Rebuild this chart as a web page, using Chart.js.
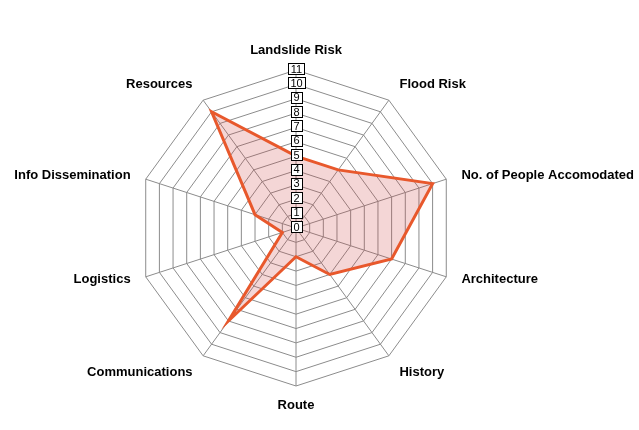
<!DOCTYPE html>
<html>
<head>
<meta charset="utf-8">
<script src="https://cdn.jsdelivr.net/npm/chart.js@4/dist/chart.umd.min.js"></script>
<style>
  html, body { margin: 0; padding: 0; background: #ffffff; }
  #wrap { width: 639px; height: 430px; position: relative; }
</style>
</head>
<body>
<div id="wrap"><canvas id="c" width="639" height="430"></canvas></div>
<script>
const categories = [
  "Landslide Risk", "Flood Risk", "No. of People Accomodated", "Architecture",
  "History", "Route", "Communications", "Logistics", "Info Dissemination", "Resources"
];
const seriesValues = [5, 5, 10, 7, 4, 2, 8, 1, 3, 10];
const tickLabels = ["0", "1", "2", "3", "4", "5", "6", "7", "8", "9", "10", "11"];

const labelFont = 'bold 13px "Liberation Sans", Arial, sans-serif';
const tickFont = '11px "Liberation Sans", Arial, sans-serif';

const overlay = {
  id: 'overlay',
  afterDatasetsDraw(chart) {
    const s = chart.scales.r;
    const ctx = chart.ctx;
    ctx.save();
    // tick label boxes
    ctx.font = tickFont;
    ctx.textAlign = 'center';
    ctx.textBaseline = 'middle';
    tickLabels.forEach((t) => {
      const v = Number(t);
      const d = s.getDistanceFromCenterForValue(v);
      const x = s.xCenter;
      const y = s.yCenter - d - 1.5;
      const w = Math.round(ctx.measureText(t).width) + 5;
      const h = 11;
      const bx = Math.round(x - w / 2) + 0.5;
      const by = Math.round(y - h / 2) + 0.5;
      ctx.fillStyle = '#ffffff';
      ctx.fillRect(bx, by, w, h);
      ctx.strokeStyle = '#000000';
      ctx.lineWidth = 1;
      ctx.strokeRect(bx, by, w, h);
      ctx.fillStyle = '#000000';
      ctx.fillText(t, x + 0.5, y + 1);
    });
    // point labels
    ctx.font = labelFont;
    ctx.fillStyle = '#000000';
    ctx.textBaseline = 'middle';
    const n = categories.length;
    const dyByAngle = {0: -1.5, 36: -1, 72: 2, 108: -3, 144: 2.5, 180: 1.5, 216: 2.5, 252: -3, 288: 2, 324: -1};
    categories.forEach((lab, i) => {
      const p = s.getPointPosition(i, s.drawingArea + 18);
      const ang = Math.round(360 * i / n);
      let align = 'center';
      if (ang > 0 && ang < 180) align = 'left';
      else if (ang > 180) align = 'right';
      ctx.textAlign = align;
      const dy = dyByAngle[ang] || 0;
      let dx = 0;
      if (ang === 72 || ang === 108) dx = -2;
      if (ang === 252 || ang === 288) dx = 2;
      ctx.fillText(lab, p.x + dx, p.y + dy);
    });
    ctx.restore();
  }
};

new Chart(document.getElementById('c'), {
  type: 'radar',
  data: {
    labels: categories,
    datasets: [{
      data: seriesValues,
      borderColor: 'rgb(232, 88, 44)',
      backgroundColor: 'rgba(205, 70, 70, 0.22)',
      borderWidth: 3,
      pointRadius: 0,
      pointHoverRadius: 0,
      fill: true,
      tension: 0
    }]
  },
  options: {
    responsive: false,
    animation: false,
    events: [],
    layout: { padding: { left: 138, right: 185, top: 70, bottom: 44 } },
    plugins: { legend: { display: false }, tooltip: { enabled: false } },
    scales: {
      r: {
        min: 0,
        max: 11,
        beginAtZero: true,
        ticks: { display: false, stepSize: 1 },
        pointLabels: { display: false },
        grid: { color: '#8c8c8c', lineWidth: 1, circular: false },
        angleLines: { color: '#8c8c8c', lineWidth: 1 }
      }
    }
  },
  plugins: [overlay]
});
</script>
</body>
</html>
